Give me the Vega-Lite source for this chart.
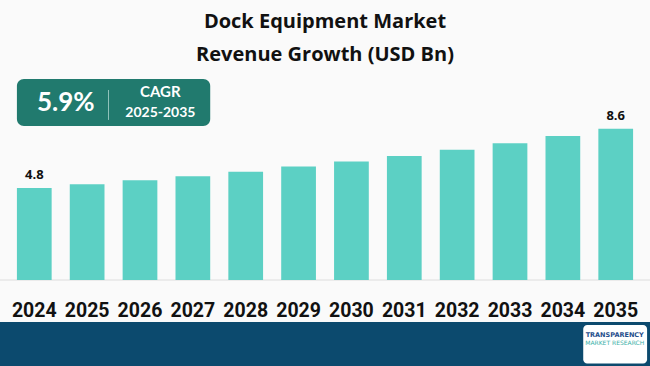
{
  "$schema": "https://vega.github.io/schema/vega-lite/v6.json",
  "width": 650,
  "height": 296,
  "autosize": {"type": "none"},
  "padding": {"top": 70, "left": 0, "right": 0, "bottom": 0},
  "background": "#FAFAFA",
  "title": {
    "text": ["Dock Equipment Market", "Revenue Growth (USD Bn)"],
    "font": "Open Sans",
    "fontSize": 20,
    "fontWeight": "bold",
    "color": "#111111",
    "anchor": "middle",
    "lineHeight": 33,
    "offset": 5
  },
  "config": {"view": {"stroke": null}},
  "data": {
    "values": [
      {"year": "2024", "value": 4.8},
      {"year": "2025", "value": 5.04},
      {"year": "2026", "value": 5.29},
      {"year": "2027", "value": 5.55},
      {"year": "2028", "value": 5.84},
      {"year": "2029", "value": 6.17},
      {"year": "2030", "value": 6.49},
      {"year": "2031", "value": 6.85},
      {"year": "2032", "value": 7.25},
      {"year": "2033", "value": 7.67},
      {"year": "2034", "value": 8.13},
      {"year": "2035", "value": 8.6}
    ]
  },
  "layer": [
    {
      "data": {"values": [{}]},
      "mark": {"type": "rect", "color": "#0C4A6E"},
      "encoding": {
        "y": {"datum": -3.79, "type": "quantitative", "scale": {"domain": [-6.61, 12.36], "nice": false, "zero": false}, "axis": null},
        "y2": {"datum": -6.61}
      }
    },
    {
      "data": {"values": [{}]},
      "mark": {"type": "rule", "color": "#DDDDDD", "strokeWidth": 1},
      "encoding": {
        "y": {"datum": -1.1, "type": "quantitative", "scale": {"domain": [-6.61, 12.36], "nice": false, "zero": false}, "axis": null}
      }
    },
    {
      "mark": {"type": "bar", "color": "#5CD0C4"},
      "encoding": {
        "x": {"field": "year", "type": "ordinal", "scale": {"paddingInner": 0.343, "paddingOuter": 0.32}, "axis": null},
        "y": {"field": "value", "type": "quantitative", "scale": {"domain": [-6.61, 12.36], "nice": false, "zero": false}, "axis": null},
        "y2": {"datum": -1.1}
      }
    },
    {
      "transform": [{"filter": "datum.year == '2024' || datum.year == '2035'"}],
      "mark": {"type": "text", "font": "Open Sans", "fontSize": 13, "fontWeight": "bold", "color": "#111111", "baseline": "alphabetic", "dy": -9},
      "encoding": {
        "x": {"field": "year", "type": "ordinal"},
        "y": {"field": "value", "type": "quantitative"},
        "text": {"field": "value", "type": "quantitative", "format": ".1f"}
      }
    },
    {
      "mark": {"type": "text", "font": "Roboto", "fontSize": 19.5, "fontWeight": "bold", "color": "#111111", "baseline": "middle"},
      "encoding": {
        "x": {"field": "year", "type": "ordinal"},
        "y": {"datum": -3.1, "type": "quantitative"},
        "text": {"field": "year"}
      }
    },
    {
      "data": {"values": [{}]},
      "mark": {"type": "rect", "color": "#217A6E", "cornerRadius": 7},
      "encoding": {
        "x": {"datum": "2024", "type": "ordinal", "bandPosition": 0},
        "x2": {"datum": "2027", "bandPosition": 1},
        "y": {"datum": 11.79, "type": "quantitative"},
        "y2": {"datum": 8.77}
      }
    },
    {
      "data": {"values": [{}]},
      "mark": {"type": "rule", "color": "#8FC2BA", "strokeWidth": 1, "xOffset": 4},
      "encoding": {
        "x": {"datum": "2025", "type": "ordinal", "bandPosition": 1},
        "y": {"datum": 11.08, "type": "quantitative"},
        "y2": {"datum": 9.16}
      }
    },
    {
      "data": {"values": [{"t": "5.9%"}]},
      "mark": {"type": "text", "font": "Lato", "fontSize": 26, "fontWeight": "bold", "color": "#FFFFFF", "baseline": "middle", "dx": -4},
      "encoding": {
        "x": {"datum": "2025", "type": "ordinal", "bandPosition": 0},
        "y": {"datum": 10.25, "type": "quantitative"},
        "text": {"field": "t"}
      }
    },
    {
      "data": {"values": [{"t": "CAGR"}]},
      "mark": {"type": "text", "font": "Lato", "fontSize": 15, "fontWeight": "bold", "color": "#FFFFFF", "baseline": "middle", "dx": 3},
      "encoding": {
        "x": {"datum": "2026", "type": "ordinal", "bandPosition": 1},
        "y": {"datum": 10.95, "type": "quantitative"},
        "text": {"field": "t"}
      }
    },
    {
      "data": {"values": [{"t": "2025-2035"}]},
      "mark": {"type": "text", "font": "Lato", "fontSize": 14, "fontWeight": "bold", "color": "#FFFFFF", "baseline": "middle", "dx": 3},
      "encoding": {
        "x": {"datum": "2026", "type": "ordinal", "bandPosition": 1},
        "y": {"datum": 9.61, "type": "quantitative"},
        "text": {"field": "t"}
      }
    },
    {
      "data": {"values": [{}]},
      "mark": {"type": "rect", "color": "#FFFFFF", "cornerRadius": 4, "xOffset": 3, "x2Offset": 14},
      "encoding": {
        "x": {"datum": "2034", "type": "ordinal", "bandPosition": 1},
        "x2": {"datum": "2035", "bandPosition": 1},
        "y": {"datum": -3.98, "type": "quantitative"},
        "y2": {"datum": -6.45}
      }
    },
    {
      "data": {"values": [{"t": "TRANSPARENCY"}]},
      "mark": {"type": "text", "font": "DejaVu Sans", "fontSize": 6.5, "fontWeight": "bold", "color": "#1F4E8C", "baseline": "middle", "dx": -1},
      "encoding": {
        "x": {"datum": "2035", "type": "ordinal", "bandPosition": 0.5},
        "y": {"datum": -4.6, "type": "quantitative"},
        "text": {"field": "t"}
      }
    },
    {
      "data": {"values": [{"t": "MARKET RESEARCH"}]},
      "mark": {"type": "text", "font": "DejaVu Sans", "fontSize": 6, "color": "#3BB0A8", "baseline": "middle", "dx": -1},
      "encoding": {
        "x": {"datum": "2035", "type": "ordinal", "bandPosition": 0.5},
        "y": {"datum": -5.15, "type": "quantitative"},
        "text": {"field": "t"}
      }
    }
  ]
}
